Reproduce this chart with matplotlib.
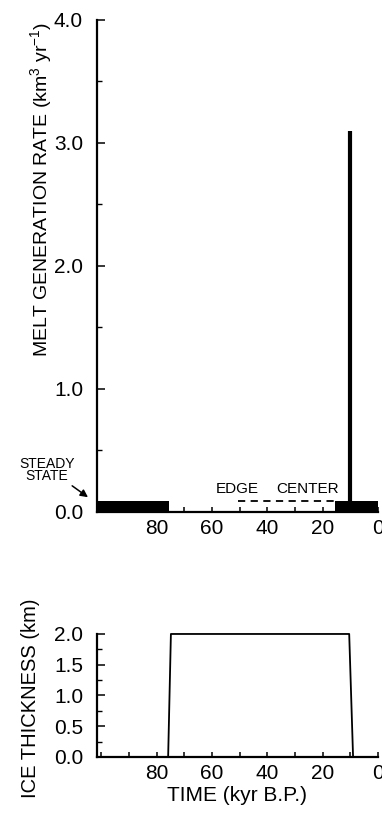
import numpy as np
import matplotlib
matplotlib.use('Agg')
import matplotlib.pyplot as plt
from matplotlib.ticker import MultipleLocator, FormatStrFormatter

plt.rcParams['font.family'] = ['Liberation Sans', 'DejaVu Sans']
plt.rcParams['mathtext.default'] = 'regular'

# melt generation (km3/yr) - blocks of steady melt, given as (start, end) in kyr B.P.
steady_start = [101.5, 15.5]
steady_end = [75.5, 0.0]
steady_rate = 0.09
# edge-to-center melt (dashed)
edge_start, edge_end, edge_rate = 50.5, 16.0, 0.09
# deglaciation pulse
pulse_time, pulse_rate = 10.0, 3.1

# ice thickness history
ice_time = [101.5, 75.8, 74.8, 10.4, 9.0, 0.0]
ice_thick = [0.0, 0.0, 2.0, 2.0, 0.0, 0.0]

x_ticks = [80, 60, 40, 20, 0]

fig = plt.figure(figsize=(3.82, 8.21), dpi=100)
ax1 = fig.add_axes([0.2539, 0.3764, 0.7356, 0.5993])
ax2 = fig.add_axes([0.2539, 0.0780, 0.7356, 0.1498])

for ax in (ax1, ax2):
    ax.set_xlim(101.5, 0)
    ax.spines['top'].set_visible(False)
    ax.spines['right'].set_visible(False)
    for s in ('left', 'bottom'):
        ax.spines[s].set_linewidth(1.6)
    ax.xaxis.set_major_locator(MultipleLocator(20))
    ax.xaxis.set_minor_locator(MultipleLocator(10))
    ax.tick_params(axis='x', which='both', direction='in', length=3.6, width=1.1,
                   labelsize=15, pad=5)
    ax.tick_params(axis='y', which='major', direction='in', length=6, width=1.1,
                   labelsize=15, pad=10)
    ax.tick_params(axis='y', which='minor', direction='in', length=3.6, width=1.0)
    ax.yaxis.set_major_formatter(FormatStrFormatter('%.1f'))

# --- top panel
for a, b in zip(steady_start, steady_end):
    ax1.fill_between([a, b], 0, steady_rate, color='black', lw=0)
ax1.plot([edge_start, edge_end], [edge_rate, edge_rate], color='black', lw=1.3,
         dashes=(4, 3))
ax1.vlines(pulse_time, 0, pulse_rate, color='black', lw=3)
ax1.set_ylim(0, 4.0)
ax1.yaxis.set_major_locator(MultipleLocator(1.0))
ax1.yaxis.set_minor_locator(MultipleLocator(0.5))
ax1.set_xticks(x_ticks)
ax1.text(50.9, 0.19, 'EDGE', fontsize=11, ha='center', va='center')
ax1.text(25.6, 0.19, 'CENTER', fontsize=11, ha='center', va='center')
ax1.annotate('STEADY\nSTATE', xy=(-0.032, 0.03), xycoords='axes fraction',
             xytext=(-0.178, 0.085), textcoords='axes fraction',
             fontsize=10, ha='center', va='center', linespacing=0.8,
             annotation_clip=False,
             arrowprops=dict(arrowstyle='-|>', color='black', lw=1.1,
                             mutation_scale=11, relpos=(0.82, 0.1),
                             shrinkA=0, shrinkB=0))
fig.text(41 / 382, 1 - 189 / 821, 'MELT GENERATION RATE (km$^3$ yr$^{-1}$)',
         rotation=90, ha='center', va='center', fontsize=14)

# --- bottom panel
ax2.plot(ice_time, ice_thick, color='black', lw=1.3, clip_on=False)
ax2.set_ylim(0, 2.0)
ax2.yaxis.set_major_locator(MultipleLocator(0.5))
ax2.yaxis.set_minor_locator(MultipleLocator(0.25))
ax2.set_xticks(x_ticks)
ax2.set_xlabel('TIME (kyr B.P.)', fontsize=15, labelpad=2)
fig.text(31 / 382, 1 - 698 / 821, 'ICE THICKNESS (km)',
         rotation=90, ha='center', va='center', fontsize=14.5)

fig.savefig('out.png', dpi=100)
